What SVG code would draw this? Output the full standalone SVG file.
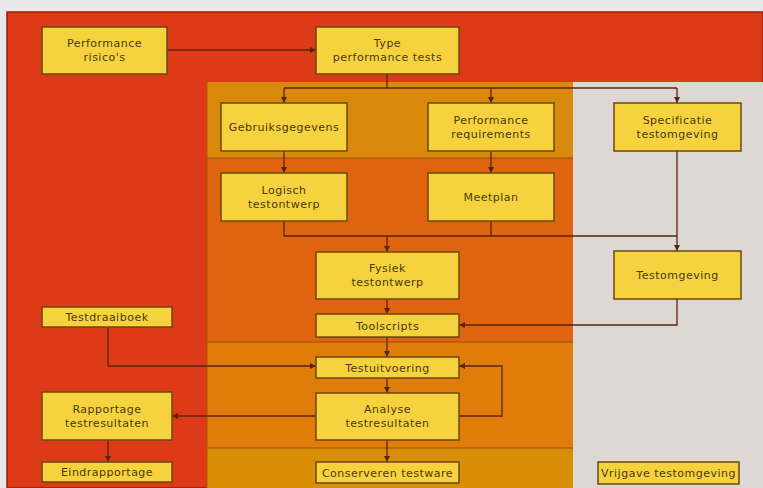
<svg xmlns="http://www.w3.org/2000/svg" width="763" height="488" viewBox="0 0 763 488">
<defs>
<style>
.box rect{fill:#f5d23e;stroke:#6b4712;stroke-width:1.5}
.box text{font-family:"DejaVu Sans",Verdana,sans-serif;font-size:11px;letter-spacing:0.5px;fill:#4a3a08;text-anchor:middle}
.c{fill:none;stroke:#5a2410;stroke-width:1.3}
.sep{stroke:#9a4a12;stroke-width:1.2}
</style>
<marker id="a" markerWidth="6" markerHeight="6" refX="6" refY="3" orient="auto" markerUnits="userSpaceOnUse"><path d="M0,0 L6,3 L0,6 z" fill="#5a2410"/></marker>
</defs>
<rect x="0" y="0" width="763" height="488" fill="#e8e8e8"/>
<rect x="7" y="12" width="756" height="476" fill="#dd3a17" stroke="#9a1a08" stroke-width="1.5"/>
<rect x="207" y="82" width="366" height="76" fill="#d98a0c"/>
<rect x="207" y="158" width="366" height="184" fill="#e0630e"/>
<rect x="207" y="342" width="366" height="106" fill="#e07c0a"/>
<rect x="207" y="448" width="366" height="40" fill="#d98f05"/>
<rect x="573" y="82" width="190" height="406" fill="#ddd8d4"/>
<line class="sep" x1="207" y1="158" x2="573" y2="158"/>
<line class="sep" x1="207" y1="342" x2="573" y2="342"/>
<line class="sep" x1="207" y1="448" x2="573" y2="448"/>
<line x1="207" y1="82" x2="207" y2="488" stroke="#b8500e" stroke-width="1"/>

<g id="connectors">
<path class="c" d="M167,50 H316" marker-end="url(#a)"/>
<path class="c" d="M387,74 V88 M284,88 H677"/>
<path class="c" d="M284,88 V103" marker-end="url(#a)"/>
<path class="c" d="M491,88 V103" marker-end="url(#a)"/>
<path class="c" d="M677,88 V103" marker-end="url(#a)"/>
<path class="c" d="M284,151 V173" marker-end="url(#a)"/>
<path class="c" d="M491,151 V173" marker-end="url(#a)"/>
<path class="c" d="M284,221 V236 H677 M491,221 V236"/>
<path class="c" d="M387,236 V252" marker-end="url(#a)"/>
<path class="c" d="M677,151 V251" marker-end="url(#a)"/>
<path class="c" d="M387,299 V314" marker-end="url(#a)"/>
<path class="c" d="M677,299 V325 H459" marker-end="url(#a)"/>
<path class="c" d="M387,337 V357" marker-end="url(#a)"/>
<path class="c" d="M108,327 V366 H316" marker-end="url(#a)"/>
<path class="c" d="M387,378 V393" marker-end="url(#a)"/>
<path class="c" d="M459,416 H502 V366 H459" marker-end="url(#a)"/>
<path class="c" d="M316,416 H172" marker-end="url(#a)"/>
<path class="c" d="M387,440 V462" marker-end="url(#a)"/>
<path class="c" d="M108,440 V462" marker-end="url(#a)"/>
</g>

<g id="performance-risicos" class="box"><rect x="42" y="27" width="125" height="47"/><text x="104.5" y="47">Performance</text><text x="104.5" y="61">risico's</text></g>
<g id="type-performance-tests" class="box"><rect x="316" y="27" width="143" height="47"/><text x="387.5" y="47">Type</text><text x="387.5" y="61">performance tests</text></g>
<g id="gebruiksgegevens" class="box"><rect x="221" y="103" width="126" height="48"/><text x="284" y="131">Gebruiksgegevens</text></g>
<g id="performance-requirements" class="box"><rect x="428" y="103" width="126" height="48"/><text x="491" y="124">Performance</text><text x="491" y="138">requirements</text></g>
<g id="specificatie-testomgeving" class="box"><rect x="614" y="103" width="127" height="48"/><text x="677.5" y="124">Specificatie</text><text x="677.5" y="138">testomgeving</text></g>
<g id="logisch-testontwerp" class="box"><rect x="221" y="173" width="126" height="48"/><text x="284" y="194">Logisch</text><text x="284" y="208">testontwerp</text></g>
<g id="meetplan" class="box"><rect x="428" y="173" width="126" height="48"/><text x="491" y="201">Meetplan</text></g>
<g id="fysiek-testontwerp" class="box"><rect x="316" y="252" width="143" height="47"/><text x="387.5" y="272">Fysiek</text><text x="387.5" y="286">testontwerp</text></g>
<g id="testomgeving" class="box"><rect x="614" y="251" width="127" height="48"/><text x="677.5" y="279">Testomgeving</text></g>
<g id="toolscripts" class="box"><rect x="316" y="314" width="143" height="23"/><text x="387.5" y="329.5">Toolscripts</text></g>
<g id="testdraaiboek" class="box"><rect x="42" y="307" width="130" height="20"/><text x="107" y="321">Testdraaiboek</text></g>
<g id="testuitvoering" class="box"><rect x="316" y="357" width="143" height="21"/><text x="387.5" y="371.5">Testuitvoering</text></g>
<g id="analyse-testresultaten" class="box"><rect x="316" y="393" width="143" height="47"/><text x="387.5" y="413">Analyse</text><text x="387.5" y="427">testresultaten</text></g>
<g id="rapportage-testresultaten" class="box"><rect x="42" y="392" width="130" height="48"/><text x="107" y="413">Rapportage</text><text x="107" y="427">testresultaten</text></g>
<g id="eindrapportage" class="box"><rect x="42" y="462" width="130" height="20"/><text x="107" y="476">Eindrapportage</text></g>
<g id="conserveren-testware" class="box"><rect x="316" y="462" width="143" height="21"/><text x="387.5" y="476.5">Conserveren testware</text></g>
<g id="vrijgave-testomgeving" class="box"><rect x="598" y="462" width="141" height="22"/><text x="668.5" y="477">Vrijgave testomgeving</text></g>
</svg>
